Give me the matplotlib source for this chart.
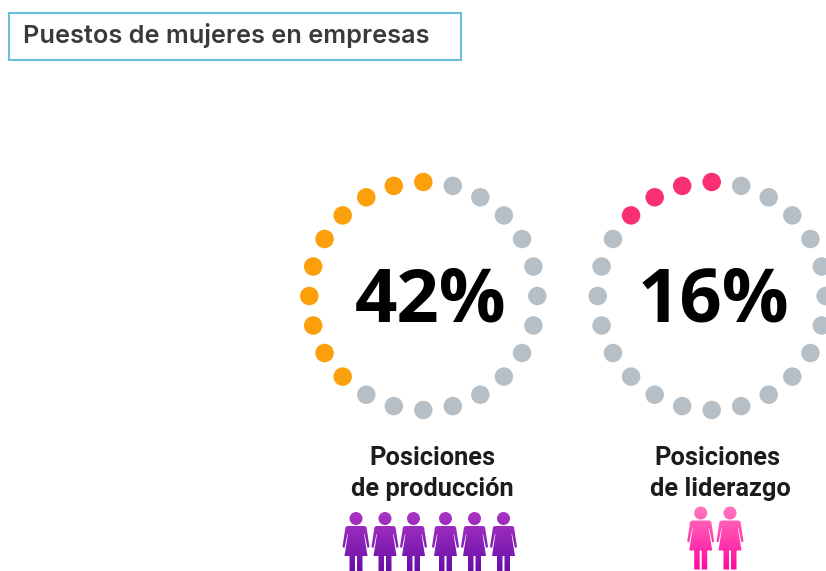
import numpy as np
import matplotlib
matplotlib.use('Agg')
import matplotlib.pyplot as plt
from matplotlib.patches import Rectangle
from matplotlib.path import Path

title = 'Puestos de mujeres en empresas'
percent_labels = ['42%', '16%']
filled_dots = [10, 4]
total_dots = 24
dot_colors = ['#fb9f0b', '#f92f74']
label_lines = [['Posiciones', 'de producción'], ['Posiciones', 'de liderazgo']]
woman_counts = [6, 2]
grey = '#b6bfc6'

# layout, in pixels of the 826x571 picture
centers_x = [423.3, 711.7]
center_y = 296
radius = 114
percent_x = [431, 713]
label_x = [[432.5, 432.5], [717.5, 720]]
woman_x = [[356, 385, 413.5, 445.5, 474.5, 503.5], [700.7, 730]]
woman_top = [512, 506.5]
grads = [('#ab35c4', '#640ca6'), ('#ff77bd', '#ff0aa0')]


def woman_path(cx, top):
    # one figure: head, dress with arms, two legs (63 px tall)
    body = [(-8.5, 14), (8.5, 14), (10.5, 15), (13.5, 35), (11.5, 36), (8.5, 22), (8, 22),
            (11.5, 44), (-11.5, 44), (-8, 22), (-8.5, 22), (-11.5, 36), (-13.5, 35),
            (-10.5, 15), (-8.5, 14)]
    leg_l = [(-6.5, 43), (-1, 43), (-1, 63), (-6.5, 63), (-6.5, 43)]
    leg_r = [(1, 43), (6.5, 43), (6.5, 63), (1, 63), (1, 43)]
    paths = []
    for poly in (body, leg_l, leg_r):
        paths.append(Path([(cx + x, top + y) for x, y in poly], closed=True))
    head = Path.circle((cx, top + 6.5), 6.5)
    return Path.make_compound_path(head, *paths)


fig = plt.figure(figsize=(8.26, 5.71), dpi=100, facecolor='white')
ax = fig.add_axes([0, 0, 1, 1])

# title box
ax.add_patch(Rectangle((9, 12.5), 452, 47, facecolor='white', edgecolor='#6cbddd', linewidth=1.5))
ax.text(23, 35.5, title, family='Inter', fontsize=18.25, fontweight='semibold', color='#3a3a3c',
        ha='left', va='center')

for i in range(2):
    # dots clockwise from the top, the filled ones run counter-clockwise
    angles = np.deg2rad(np.arange(total_dots) * 360.0 / total_dots)
    xs = centers_x[i] - radius * np.sin(angles)
    ys = center_y - radius * np.cos(angles)
    colors = [dot_colors[i] if k < filled_dots[i] else grey for k in range(total_dots)]
    ax.scatter(xs, ys, s=177, c=colors, linewidths=0, zorder=2)

    ax.text(percent_x[i], 303, percent_labels[i], family='Open Sans', fontsize=53.5,
            fontweight='bold', color='black', ha='center', va='center')

    ax.text(label_x[i][0], 458, label_lines[i][0], family='Roboto', fontsize=18.3, fontweight='bold',
            color='#1c1c1c', ha='center', va='center')
    ax.text(label_x[i][1], 489, label_lines[i][1], family='Roboto', fontsize=18.3,
            fontweight='bold', color='#1c1c1c', ha='center', va='center')

    # pictograms with a vertical gradient
    cmap = matplotlib.colors.LinearSegmentedColormap.from_list('g', grads[i])
    for j in range(woman_counts[i]):
        cx = woman_x[i][j]
        top = woman_top[i]
        im = ax.imshow(np.linspace(0, 1, 64).reshape(-1, 1), cmap=cmap, aspect='auto',
                       extent=(cx - 15, cx + 15, top + 64, top), zorder=3)
        im.set_clip_path(woman_path(cx, top), transform=ax.transData)

ax.set_xlim(0, 826)
ax.set_ylim(571, 0)
ax.axis('off')

fig.savefig('out.png', dpi=100, facecolor='white')
